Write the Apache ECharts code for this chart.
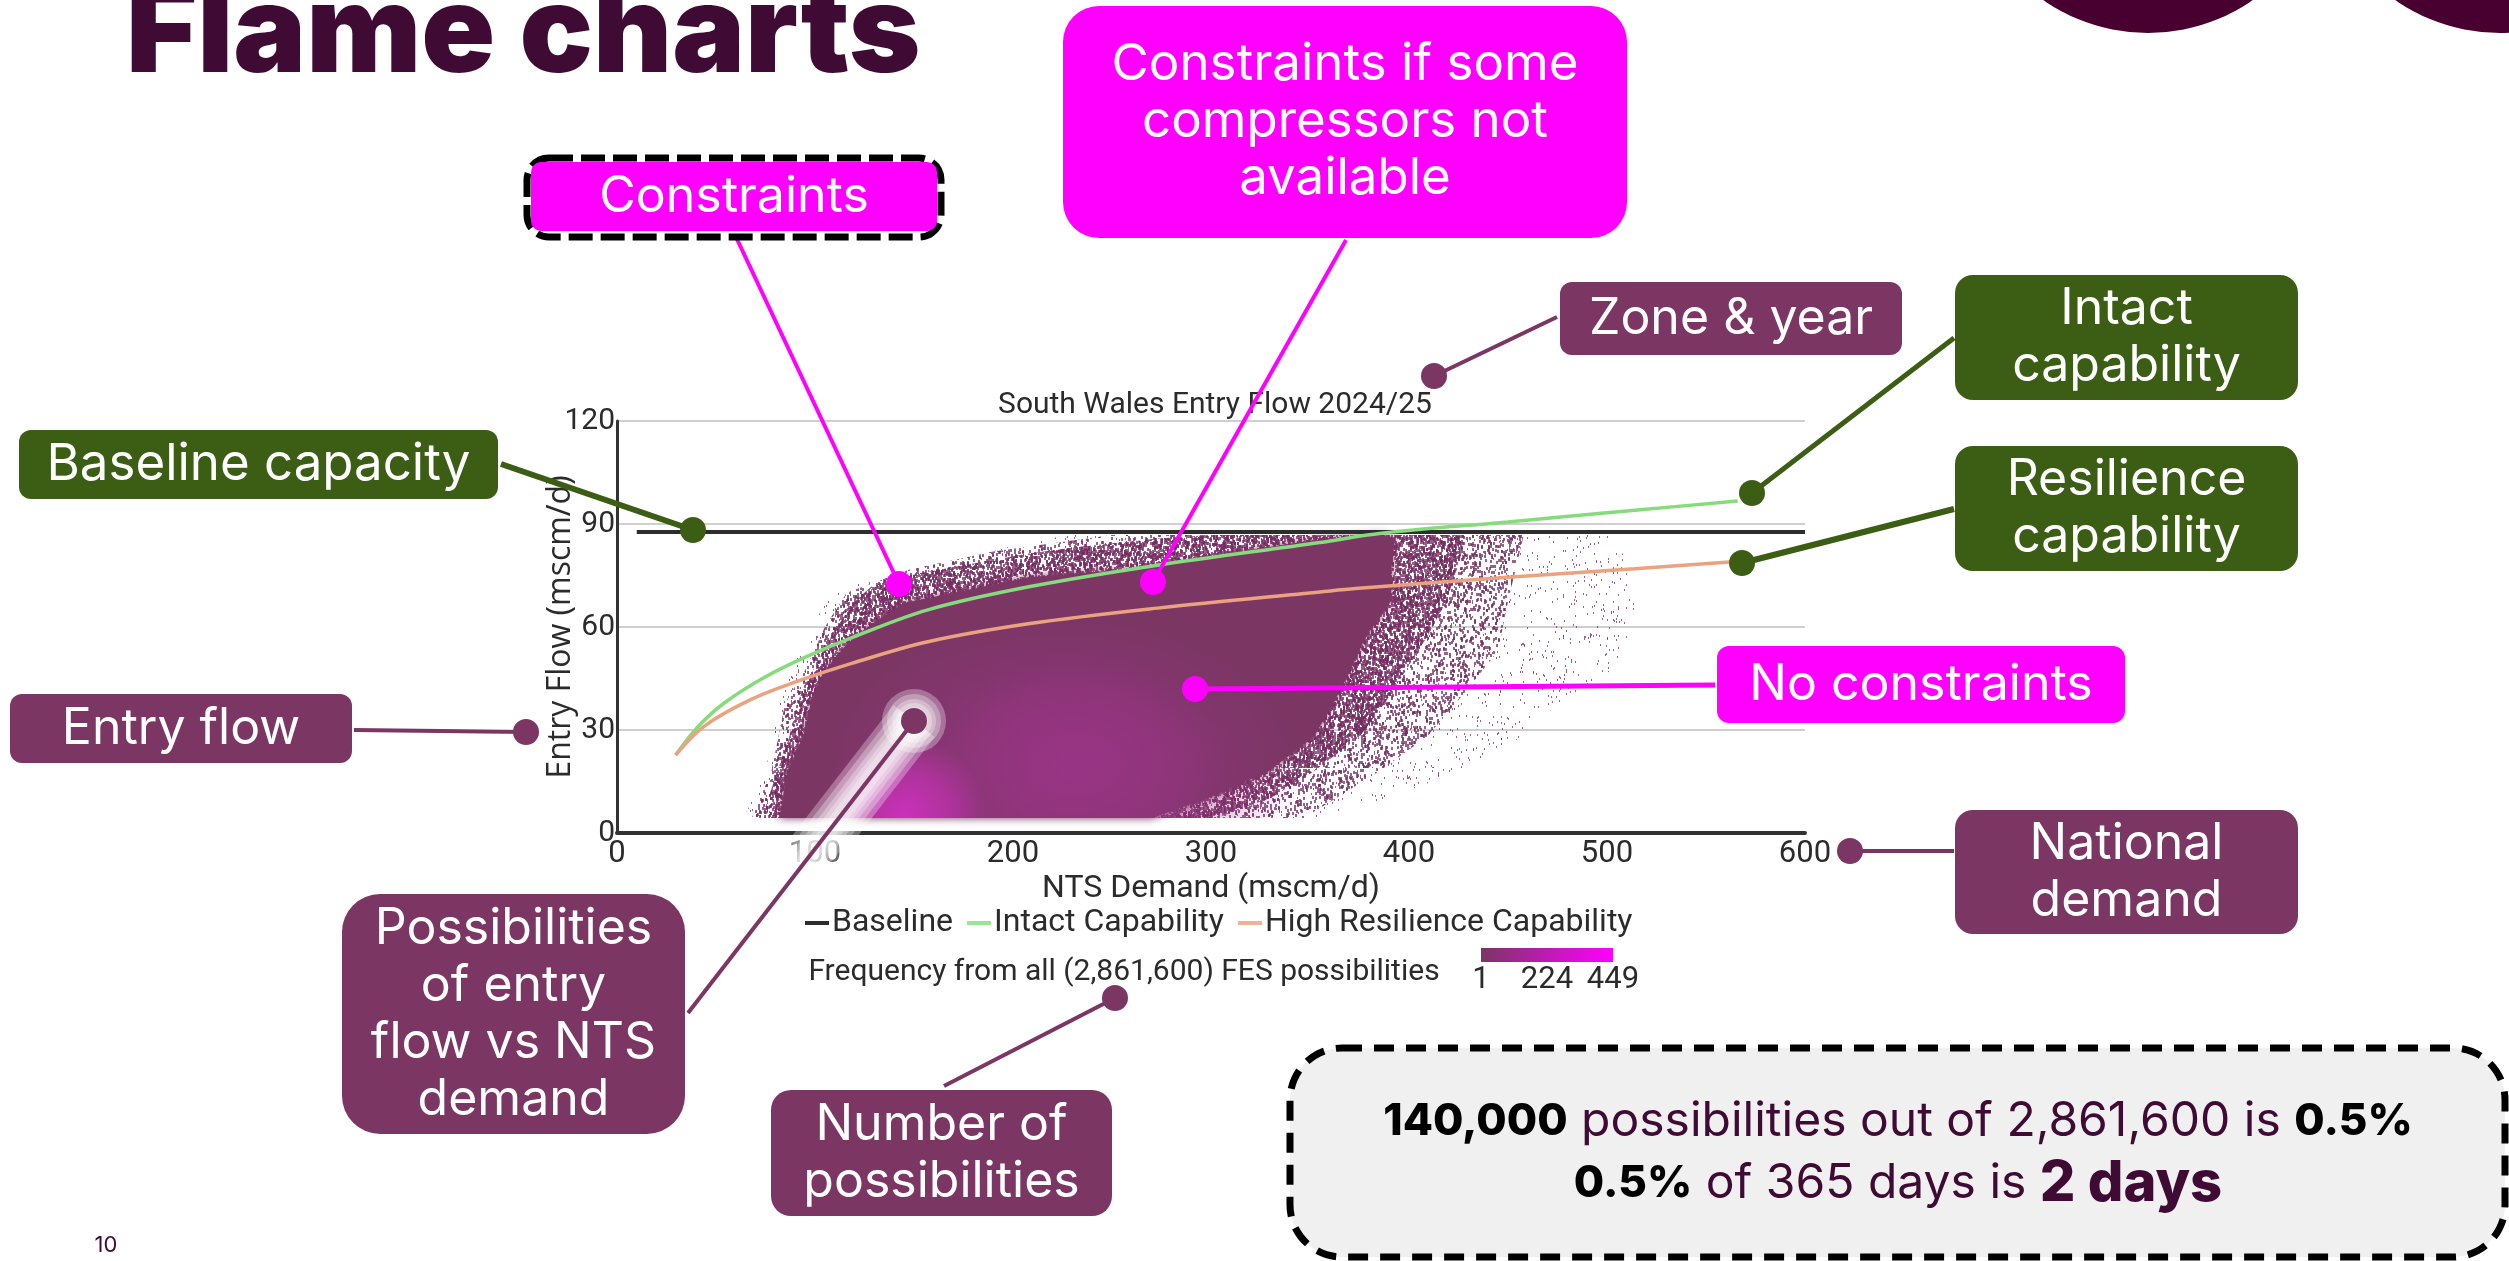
<!DOCTYPE html>
<html>
<head>
<meta charset="utf-8">
<title>Flame charts</title>
<script src="https://cdn.jsdelivr.net/npm/echarts@6/dist/echarts.min.js"></script>
<style>
  html, body { margin: 0; padding: 0; background: #fff; }
  #main { width: 2509px; height: 1261px; }
</style>
</head>
<body>
<div id="main"></div>
<script>
// tick labels
const demandTicks = [0, 100, 200, 300, 400, 500, 600];
const flowTicks = [0, 30, 60, 90, 120];

// capability lines, [NTS demand, entry flow]
const baselineLine = [[10, 87.7], [600, 87.7]];
const intactLine = [[29.6, 22.7], [41, 31], [54, 37.8], [75, 45.5], [95.4, 51.3], [119, 57], [157, 65], [208, 71.7],
  [273, 78], [355, 84.6], [386, 87.3], [450, 90.6], [514, 94], [566, 96.7]];
const resilienceLine = [[29.6, 22.7], [43.8, 31], [67, 38.7], [92.7, 44.5], [118.5, 49.4], [157, 55.7], [208.6, 61],
  [273, 65.5], [355, 70.2], [373, 71.2], [450, 74.5], [514, 77], [563.6, 79]];

// outlines of the possibilities cloud, [NTS demand, entry flow]
const solidEdge = [[82, 4.4], [86, 18], [94, 28], [98, 38], [105, 47.4], [116, 55], [129, 61], [145, 67], [208, 74.5],
  [273, 77.5], [337, 84], [355, 85.5], [385, 87], [393, 86], [391, 76.5], [391, 67.6], [378, 57], [370, 47], [362, 38],
  [352, 28], [329, 18], [300, 10.5], [270, 4.4]];
const denseEdge = [[73, 4.4], [81, 18], [87, 28], [91, 38], [99, 47.4], [108, 57], [119, 67], [129, 72], [152, 75.6],
  [208, 81.4], [234, 83.4], [273, 85.8], [300, 86.8], [429, 86.8], [424, 76.5], [419, 67.6], [409, 57], [398, 47],
  [388, 38], [375, 28], [352, 18], [331, 10.5], [303, 4.4]];
const midEdge = [[68, 4.4], [78, 18], [85, 38], [95, 47.4], [105, 60], [116, 70], [147, 76.6], [190, 82], [250, 86.8],
  [458, 86.8], [450, 67.6], [445, 53], [424, 38], [409, 28], [385, 18], [347, 4.4]];
const faintEdge = [[64, 4.4], [75, 18], [82, 38], [90, 50], [105, 67], [116, 72], [147, 76.6], [183, 81], [208, 85],
  [230, 86.8], [501, 86.8], [514, 76.5], [517, 61], [501, 47], [476, 38], [450, 25], [412, 15], [360, 4.4]];

// brighter cores of the cloud: demand, flow, half width, half height
const coreDemand = [225, 232, 145];
const coreFlow = [20, 20, 4.4];
const coreHalfWidth = [120, 75, 42];
const coreHalfHeight = [44, 30, 24];
const coreColors = ['rgba(146,53,126,0.75)', 'rgba(156,52,136,0.8)', 'rgba(208,48,192,0.95)'];

const cloudFloor = 4.4;

const textFont = 'Inter, "Open Sans", sans-serif';
const chartFont = 'Roboto, "Liberation Sans", sans-serif';
const plum = '#7b3664';
const moss = '#3b5e14';
const magenta = '#ff00ff';
const ink = '#3f0a33';
const chartInk = '#2b2b2b';

// speckle fill for the cloud edges, dots placed on fixed polynomial sequences
function speckle(count, offset, dotWidth) {
  const size = 256;
  const tile = document.createElement('canvas');
  tile.width = size;
  tile.height = size;
  const ctx = tile.getContext('2d');
  ctx.fillStyle = 'rgba(118,44,98,0.75)';
  for (let i = 0; i < count; i++) {
    const n = i + offset;
    const x = (n * n * 0.7548776662 + n * 0.13) % 1 * size;
    const y = (n * n * n * 0.5698402910 + n * 0.31) % 1 * size;
    ctx.fillRect(Math.round(x), Math.round(y), dotWidth, dotWidth + 1);
  }
  return { image: tile, repeat: 'repeat' };
}

function edgeSeries(name, edge, fill, blur) {
  return {
    name: name,
    type: 'custom',
    coordinateSystem: 'cartesian2d',
    silent: true,
    data: edge,
    renderItem: function (params, api) {
      if (params.dataIndex !== 0) return null;
      return {
        type: 'polygon',
        shape: { points: edge.map(p => api.coord(p)) },
        style: blur ? { fill: fill, shadowBlur: blur, shadowColor: fill } : { fill: fill }
      };
    }
  };
}

const coreRows = coreDemand.map((d, i) => [d, coreFlow[i], coreHalfWidth[i], coreHalfHeight[i], i]);

const coreSeries = {
  name: 'Cloud core',
  type: 'custom',
  coordinateSystem: 'cartesian2d',
  silent: true,
  data: coreRows,
  renderItem: function (params, api) {
    const row = coreRows[params.dataIndex];
    const c = api.coord([row[0], row[1]]);
    const s = api.size([row[2], row[3]]);
    const floor = api.coord([0, cloudFloor])[1];
    const color = coreColors[row[4]];
    return {
      type: 'group',
      clipPath: { type: 'rect', shape: { x: 0, y: 0, width: 2509, height: floor } },
      children: [{
        type: 'circle',
        shape: { cx: 0, cy: 0, r: 100 },
        x: c[0],
        y: c[1],
        scaleX: s[0] / 100,
        scaleY: s[1] / 100,
        style: {
          fill: {
            type: 'radial', x: 0.5, y: 0.5, r: 0.5,
            colorStops: [
              { offset: 0, color: color },
              { offset: 0.55, color: color.replace(/[\d.]+\)$/, m => (parseFloat(m) * 0.6) + ')') },
              { offset: 1, color: color.replace(/[\d.]+\)$/, '0)') }
            ]
          }
        }
      }]
    };
  }
};

// callouts, x y w h in page pixels
function box(x, y, w, h, r, fill, lines, size, lineHeight) {
  return {
    type: 'group',
    children: [{
      type: 'rect',
      z: 20,
      shape: { x: x, y: y, width: w, height: h, r: r },
      style: { fill: fill }
    }, {
      type: 'text',
      z: 21,
      style: {
        x: x + w / 2,
        y: y + h / 2,
        text: lines.join('\n'),
        fill: '#fff',
        font: '400 ' + size + 'px ' + textFont,
        lineHeight: lineHeight,
        align: 'center',
        verticalAlign: 'middle'
      }
    }]
  };
}

function leader(x1, y1, x2, y2, color, width) {
  return {
    type: 'group',
    children: [{
      type: 'line',
      z: 15,
      shape: { x1: x1, y1: y1, x2: x2, y2: y2 },
      style: { stroke: color, lineWidth: width }
    }, {
      type: 'circle',
      z: 15,
      shape: { cx: x2, cy: y2, r: 13 },
      style: { fill: color }
    }]
  };
}

function chartText(x, y, text, size, align) {
  return {
    type: 'text',
    z: 5,
    style: {
      x: x,
      y: y,
      text: text,
      fill: chartInk,
      font: size + 'px ' + chartFont,
      align: align || 'center',
      verticalAlign: 'middle'
    }
  };
}

// soft white glow under the possibilities leader, stacked translucent strokes
function glow(width) {
  return [{
    type: 'line', z: 12,
    shape: { x1: 914, y1: 721, x2: 690, y2: 1010 },
    style: { stroke: 'rgba(255,255,255,0.3)', lineWidth: width, lineCap: 'butt' }
  }, {
    type: 'circle', z: 12,
    shape: { cx: 914, cy: 721, r: width / 2 + 6 },
    style: { fill: 'rgba(255,255,255,0.3)' }
  }];
}

const graphics = [
  // header
  { type: 'text', z: 1, style: { x: 126, y: 96, text: 'Flame charts', fill: ink, font: '900 122px ' + textFont, align: 'left', verticalAlign: 'bottom' } },
  { type: 'circle', z: 1, shape: { cx: 2148, cy: -150, r: 183 }, style: { fill: '#47002f' } },
  { type: 'circle', z: 1, shape: { cx: 2500, cy: -150, r: 183 }, style: { fill: '#47002f' } },
  { type: 'text', z: 1, style: { x: 106, y: 1245, text: '10', fill: ink, font: '22px ' + textFont, align: 'center', verticalAlign: 'middle' } },

  // frequency key
  chartText(1124, 972, 'Frequency from all (2,861,600) FES possibilities', 30),
  {
    type: 'rect', z: 5,
    shape: { x: 1481, y: 948, width: 132, height: 14 },
    style: { fill: { type: 'linear', x: 0, y: 0, x2: 1, y2: 0, colorStops: [{ offset: 0, color: plum }, { offset: 1, color: magenta }] } }
  },
  chartText(1481, 980, '1', 31),
  chartText(1547, 980, '224', 31),
  chartText(1613, 980, '449', 31),

  ...glow(52), ...glow(42), ...glow(32), ...glow(24), ...glow(16),

  // leaders
  leader(736, 237, 899, 584, magenta, 4),
  leader(1346, 240, 1153, 582, magenta, 4),
  leader(1715, 685, 1195, 689, magenta, 5),
  leader(1557, 317, 1434, 376, plum, 4),
  leader(1954, 338, 1752, 493, moss, 5),
  leader(1954, 509, 1742, 563, moss, 6),
  leader(501, 464, 693, 530, moss, 6),
  leader(354, 730, 526, 732, plum, 4),
  leader(1954, 851, 1850, 851, plum, 4),
  leader(688, 1013, 914, 721, plum, 4),
  leader(944, 1086, 1115, 998, plum, 4),

  // callout boxes
  {
    type: 'rect', z: 19,
    shape: { x: 527, y: 158, width: 414, height: 79, r: 22 },
    style: { fill: '#fff', stroke: '#000', lineWidth: 7, lineDash: [24, 8] }
  },
  box(531, 162, 406, 69, 10, magenta, ['Constraints'], 50, 58),
  box(1063, 6, 564, 232, 36, magenta, ['Constraints if some', 'compressors not', 'available'], 51, 57),
  box(1560, 282, 342, 73, 12, plum, ['Zone & year'], 50, 58),
  box(1955, 275, 343, 125, 18, moss, ['Intact', 'capability'], 50, 57),
  box(1955, 446, 343, 125, 18, moss, ['Resilience', 'capability'], 50, 57),
  box(19, 430, 479, 69, 12, moss, ['Baseline capacity'], 51, 58),
  box(10, 694, 342, 69, 12, plum, ['Entry flow'], 50, 58),
  box(1717, 646, 408, 77, 12, magenta, ['No constraints'], 50, 58),
  box(1955, 810, 343, 124, 18, plum, ['National', 'demand'], 50, 57),
  box(342, 894, 343, 240, 38, plum, ['Possibilities', 'of entry', 'flow vs NTS', 'demand'], 50, 57),
  box(771, 1090, 341, 126, 20, plum, ['Number of', 'possibilities'], 50, 57),

  // takeaway
  {
    type: 'rect', z: 19,
    shape: { x: 1290, y: 1048, width: 1215, height: 209, r: 52 },
    style: { fill: '#f0f0f0', stroke: '#000', lineWidth: 7, lineDash: [20, 12] }
  },
  {
    type: 'text', z: 20,
    style: {
      x: 1898,
      y: 1153,
      align: 'center',
      verticalAlign: 'middle',
      text: '{b|140,000}{n| possibilities out of 2,861,600 is }{b|0.5%}\n{b|0.5%}{n| of 365 days is }{d|2 days}',
      rich: {
        b: { font: '800 44px ' + textFont, fill: '#000', lineHeight: 62 },
        n: { font: '400 48px ' + textFont, fill: ink, lineHeight: 62 },
        d: { font: '800 56px ' + textFont, fill: ink, lineHeight: 62 }
      }
    }
  }
];

const chart = echarts.init(document.getElementById('main'));

chart.setOption({
  backgroundColor: '#fff',
  animation: false,
  textStyle: { fontFamily: chartFont },
  title: {
    text: 'South Wales Entry Flow 2024/25',
    left: 1210,
    textAlign: 'center',
    top: 385,
    textStyle: { color: chartInk, fontSize: 30, fontWeight: 'normal', fontFamily: chartFont }
  },
  grid: { left: 617, top: 421, width: 1188, height: 412, containLabel: false },
  legend: {
    left: 800,
    top: 902,
    itemWidth: 24,
    itemHeight: 4,
    itemGap: 14,
    icon: 'rect',
    textStyle: { color: chartInk, fontSize: 32, fontFamily: chartFont, padding: [0, 0, 0, -2] },
    data: ['Baseline', 'Intact Capability', 'High Resilience Capability']
  },
  xAxis: {
    type: 'value',
    min: 0,
    max: 600,
    interval: 100,
    name: 'NTS Demand (mscm/d)',
    nameLocation: 'middle',
    nameGap: 40,
    nameTextStyle: { color: chartInk, fontSize: 32, fontFamily: chartFont },
    axisLine: { show: true, lineStyle: { color: '#333', width: 4 } },
    axisTick: { show: false },
    splitLine: { show: false },
    axisLabel: {
      color: chartInk,
      fontSize: 31,
      margin: 6,
      customValues: demandTicks
    }
  },
  yAxis: {
    type: 'value',
    min: 0,
    max: 120,
    interval: 30,
    name: 'Entry Flow (mscm/d)',
    nameLocation: 'middle',
    nameGap: 40,
    nameMoveOverlap: false,
    nameTextStyle: { color: chartInk, fontSize: 32, fontFamily: 'Open Sans, sans-serif' },
    axisLine: { show: true, lineStyle: { color: '#333', width: 3 } },
    axisTick: { show: false },
    splitLine: { show: true, lineStyle: { color: '#cfcfcf', width: 2 } },
    axisLabel: {
      color: chartInk,
      fontSize: 30,
      margin: 2,
      padding: [0, 0, 18, 0],
      customValues: flowTicks
    }
  },
  series: [
    edgeSeries('Faint', faintEdge, speckle(1100, 1, 1)),
    edgeSeries('Mid', midEdge, speckle(4800, 1300, 2)),
    edgeSeries('Dense', denseEdge, speckle(11000, 7000, 2)),
    edgeSeries('Solid', solidEdge, plum, 8),
    coreSeries,
    {
      name: 'Baseline',
      type: 'line',
      data: baselineLine,
      showSymbol: false,
      lineStyle: { color: '#2d2d2d', width: 4 },
      itemStyle: { color: '#2d2d2d' }
    },
    {
      name: 'Intact Capability',
      type: 'line',
      data: intactLine,
      smooth: 0.35,
      showSymbol: false,
      lineStyle: { color: '#86db7c', width: 3.5 },
      itemStyle: { color: '#9ae592' }
    },
    {
      name: 'High Resilience Capability',
      type: 'line',
      data: resilienceLine,
      smooth: 0.35,
      showSymbol: false,
      lineStyle: { color: '#eba27e', width: 3.5 },
      itemStyle: { color: '#f0b195' }
    }
  ],
  graphic: { elements: graphics }
});
</script>
</body>
</html>
